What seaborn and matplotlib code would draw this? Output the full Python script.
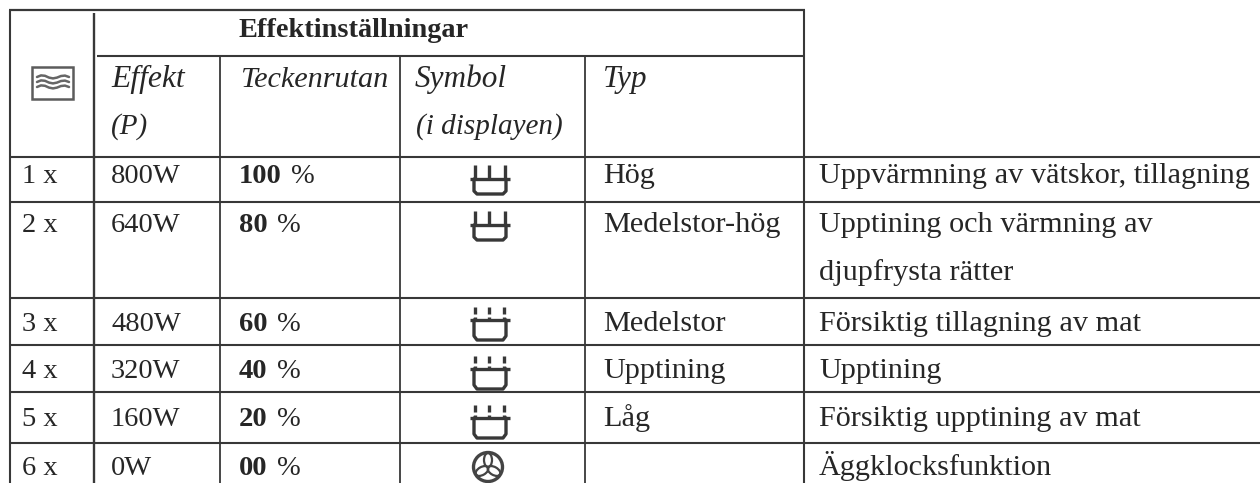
import matplotlib
matplotlib.use("Agg")
import matplotlib.pyplot as plt
from matplotlib.patches import Circle, Ellipse, Rectangle
import seaborn as sns

# table content
title = "Effektinställningar"
head_effekt = ["Effekt", "(P)"]
head_tecken = ["Teckenrutan"]
head_symbol = ["Symbol", "(i displayen)"]
head_typ = ["Typ"]

presses = ["1 x", "2 x", "3 x", "4 x", "5 x", "6 x"]
watts = ["800W", "640W", "480W", "320W", "160W", "0W"]
percent = ["100", "80", "60", "40", "20", "00"]
symbols = ["full", "full", "dash", "dash", "dash", "fan"]
types = ["Hög", "Medelstor-hög", "Medelstor", "Upptining", "Låg", ""]
uses = [
    ["Uppvärmning av vätskor, tillagning"],
    ["Upptining och värmning av", "djupfrysta rätter"],
    ["Försiktig tillagning av mat"],
    ["Upptining"],
    ["Försiktig upptining av mat"],
    ["Äggklocksfunktion"],
]

sns.set_theme(style="white")
plt.rcParams["font.family"] = ["Liberation Serif", "DejaVu Serif"]

INK = "#262626"
LINE = "#383838"
FS_SMALL = 20.5
FS = 21.8

fig, ax = plt.subplots(figsize=(12.6, 4.83), dpi=100)
ax.set_position([0, 0, 1, 1])
ax.set_xlim(0, 1260)
ax.set_ylim(483, 0)
ax.axis("off")
sns.despine(ax=ax, left=True, bottom=True)


def hline(y, x0, x1, lw=1.5):
    ax.plot([x0, x1], [y, y], color=LINE, lw=lw, solid_capstyle="butt")


def vline(x, y0, y1, lw=1.5):
    ax.plot([x, x], [y0, y1], color=LINE, lw=lw, solid_capstyle="butt")


# grid
hline(10, 9, 805, 1.6)
hline(56, 97, 805)
for y in [157, 202, 298, 345, 392, 443]:
    hline(y, 9, 1260)
vline(10, 10, 483)
vline(94, 13, 483, 1.7)
for x in [220, 400, 585]:
    vline(x, 56, 483, 1.3)
vline(804, 10, 483)


def txt(x, y, s, fs=FS, **kw):
    return ax.text(x, y, s, fontsize=fs, color=INK, va="baseline", ha="left", **kw)


# header
ax.text(354, 37, title, fontsize=20.4, fontweight="bold", color=INK, ha="center", va="baseline")
txt(111, 87, head_effekt[0], fs=22.8, style="italic")
txt(111, 134, head_effekt[1], fs=21, style="italic")
txt(240, 87, head_tecken[0], style="italic")
txt(415, 87, head_symbol[0], fs=22.5, style="italic")
txt(416, 134, head_symbol[1], fs=21, style="italic")
txt(603, 87, head_typ[0], fs=22.5, style="italic")

# microwave key icon
ax.add_patch(Rectangle((32, 67), 41, 32, fc="white", ec="#5c5c5c", lw=1.8))
wave_dx = [0, 4, 8, 12, 16, 20, 24, 28, 32]
wave_dy = [0.0, -1.6, -1.2, 0.6, 1.4, 0.6, -1.0, -1.4, 0.0]
for y0 in [77, 82, 87]:
    ax.plot([37 + d for d in wave_dx], [y0 + d for d in wave_dy], color="#666666", lw=1.8)


def full_icon(y):
    # y = top of the prongs
    for px in [475, 489, 505]:
        ax.plot([px, px], [y, y + 14], color=LINE, lw=2.4, solid_capstyle="butt")
    ax.plot([470, 510], [y + 14, y + 14], color=LINE, lw=2.4, solid_capstyle="butt")
    ax.plot([474, 474, 477, 503, 506, 506], [y + 14, y + 26, y + 29, y + 29, y + 26, y + 14], color=LINE, lw=2.4)


def dash_icon(y):
    for px in [475, 489, 504]:
        ax.plot([px, px], [y, y + 7], color=LINE, lw=2.4, solid_capstyle="butt")
        ax.plot([px, px], [y + 10, y + 13], color=LINE, lw=2.4, solid_capstyle="butt")
    ax.plot([470, 510], [y + 13, y + 13], color=LINE, lw=2.4, solid_capstyle="butt")
    ax.plot([474, 474, 477, 503, 506, 506], [y + 13, y + 29, y + 33, y + 33, y + 29, y + 13], color=LINE, lw=2.4)


def fan_icon(cx, cy):
    ax.add_patch(Circle((cx, cy), 14.5, fc="none", ec="#444444", lw=2.4))
    # three blades
    for ex, ey, ang in [(0, -7, 0), (-6, 4, 60), (6, 4, -60)]:
        ax.add_patch(Ellipse((cx + ex, cy + ey), 8, 14, angle=ang, fc="none", ec="#444444", lw=1.6))


# rows
baselines = [183, 232, 331, 378, 426, 475]
icon_top = [165, 211, 307, 356, 405, None]
fig.canvas.draw()
rend = fig.canvas.get_renderer()
for i in range(len(presses)):
    y = baselines[i]
    txt(22, y, presses[i], fs=FS_SMALL)
    txt(111, y, watts[i], fs=FS_SMALL)
    t = txt(239, y, percent[i], fs=FS_SMALL, fontweight="bold")
    right = t.get_window_extent(rend).x1
    txt(right + 9, y, "%", fs=FS_SMALL)
    txt(603, y, types[i])
    for j, s in enumerate(uses[i]):
        txt(819, y + j * 48, s)
    if symbols[i] == "full":
        full_icon(icon_top[i])
    elif symbols[i] == "dash":
        dash_icon(icon_top[i])
    else:
        fan_icon(488, 467)

fig.savefig("out.png", dpi=100)
